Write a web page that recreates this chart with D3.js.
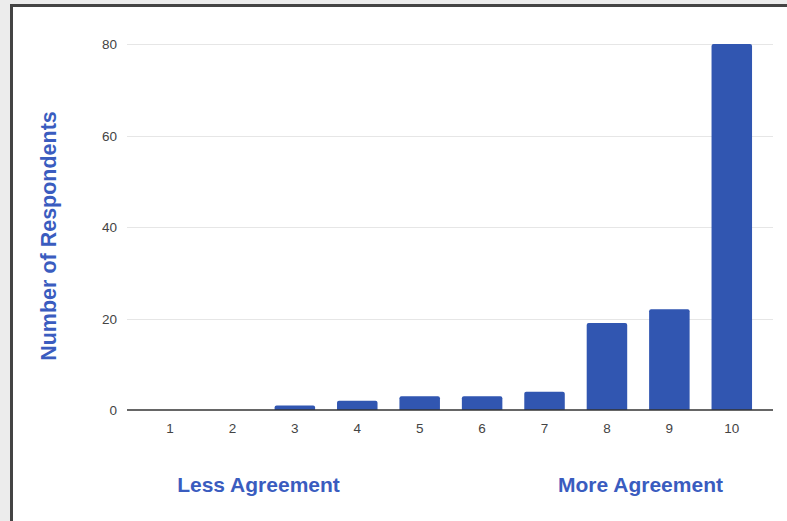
<!DOCTYPE html>
<html><head><meta charset="utf-8">
<script src="https://cdn.jsdelivr.net/npm/d3@7"></script>
<style>
html,body{margin:0;padding:0;background:#ececec;}
svg{display:block;}
</style></head>
<body>
<script>
const categories = ["1","2","3","4","5","6","7","8","9","10"];
const values = [0,0,1,2,3,3,4,19,22,80];
const yTicks = [0,20,40,60,80];
const yTitle = "Number of Respondents";
const lowLabel = "Less Agreement";
const highLabel = "More Agreement";

const W = 787, H = 521;
const svg = d3.select("body").append("svg").attr("width", W).attr("height", H);

svg.append("rect").attr("x", 11.5).attr("y", 5.5).attr("width", W).attr("height", H)
  .attr("fill", "#fff").attr("stroke", "#444").attr("stroke-width", 3);

const plotL = 127, plotR = 773;
const x = d3.scaleBand().domain(categories).range([138.8, 763]);
const y = d3.scaleLinear().domain([0, 80]).range([410, 44]);
const font = "Liberation Sans, Arial, sans-serif";

svg.append("g").selectAll("line").data(yTicks.filter(d => d > 0)).join("line")
  .attr("x1", plotL).attr("x2", plotR)
  .attr("y1", d => Math.round(y(d)) + 0.5).attr("y2", d => Math.round(y(d)) + 0.5)
  .attr("stroke", "#e6e6e6").attr("stroke-width", 1.2);

svg.append("g").selectAll("text").data(yTicks).join("text")
  .attr("x", 117).attr("y", d => y(d) + 5)
  .attr("text-anchor", "end")
  .attr("font-family", font).attr("font-size", 13.5).attr("fill", "#444")
  .text(d => d);

const bw = 40.5;
svg.append("g").selectAll("path").data(values.map((v, i) => ({c: categories[i], v})).filter(d => d.v > 0)).join("path")
  .attr("fill", "#3156b1")
  .attr("d", d => {
    const cx = x(d.c) + x.bandwidth() / 2;
    const x0 = cx - bw / 2, x1 = cx + bw / 2;
    const y0 = y(0), y1 = y(d.v);
    const r = Math.min(2, (y0 - y1) / 2);
    return `M${x0},${y0}V${y1 + r}Q${x0},${y1} ${x0 + r},${y1}H${x1 - r}Q${x1},${y1} ${x1},${y1 + r}V${y0}Z`;
  });

svg.append("line").attr("x1", plotL).attr("x2", plotR).attr("y1", 410).attr("y2", 410)
  .attr("stroke", "#333").attr("stroke-width", 1.5);

svg.append("g").selectAll("text").data(categories).join("text")
  .attr("x", d => x(d) + x.bandwidth() / 2).attr("y", 433)
  .attr("text-anchor", "middle")
  .attr("font-family", font).attr("font-size", 13.5).attr("fill", "#444")
  .text(d => d);

svg.append("text")
  .attr("transform", `translate(56,${(y(0) + y(80)) / 2 + 9}) rotate(-90)`)
  .attr("text-anchor", "middle")
  .attr("font-family", font)
  .attr("font-weight", "bold").attr("font-size", 21.5).attr("fill", "#3a5cbf")
  .text(yTitle);

svg.append("text").attr("x", 258.5).attr("y", 492)
  .attr("text-anchor", "middle")
  .attr("font-family", font)
  .attr("font-weight", "bold").attr("font-size", 21).attr("fill", "#3a5cbf")
  .text(lowLabel);
svg.append("text").attr("x", 640.5).attr("y", 492)
  .attr("text-anchor", "middle")
  .attr("font-family", font)
  .attr("font-weight", "bold").attr("font-size", 21).attr("fill", "#3a5cbf")
  .text(highLabel);
</script>
</body></html>
